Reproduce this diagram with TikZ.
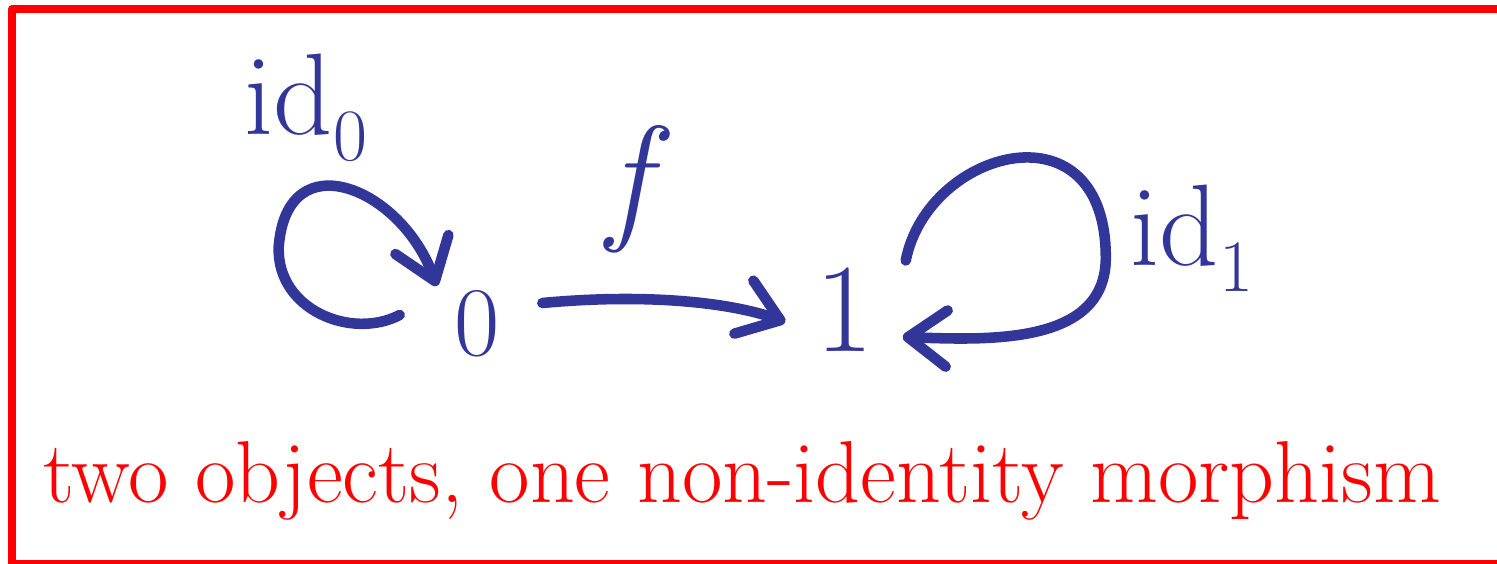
\documentclass[tikz,border=0pt]{standalone}
\usetikzlibrary{
	arrows.meta,
	calc
}
\definecolor{InkBlue}{RGB}{51,54,153}
\definecolor{InkRed}{RGB}{255,0,0}
\newcommand{\idsub}[1]{id\raisebox{-0.22em}{\fontsize{21}{24}\selectfont #1}}

\begin{document}
\begin{tikzpicture}[x=0.01cm, y=-0.01cm, line cap=round, line join=round,
		ink/.style={InkBlue, line width=3pt},
		arr/.style={ink, -{Straight Barb[round, length=11pt, width=16pt]}},
		obj/.style={InkBlue, inner sep=0pt, font=\fontsize{28}{34}\selectfont},
		lab/.style={InkBlue, inner sep=0pt, font=\fontsize{33}{38}\selectfont}]
		
		% -- Frame ----------------------------------------------------
		\useasboundingbox (0,0) rectangle (1497,563);
		\draw[InkRed, line width=2.3pt] (12,9) rectangle (1540,564);
		
		% -- Objects --------------------------------------------------
		\node[obj] (obj0) at (477,324) {0};
		\node[obj, font=\fontsize{36}{42}\selectfont] (obj1) at (845,310) {1};
		
		% -- Morphism f -----------------------------------------------
		\draw[arr] ($(obj0.east)+(42,-21)$)
		.. controls +(107,-10) and +(-53,-19) ..
		($(obj1.west)+(-30,12)$);
		\node[lab, font=\fontsize{40}{46}\selectfont\itshape] (lf) at (629,189) {f};
		
		% -- Identity on 0 --------------------------------------------
		\coordinate (l0a) at ($(obj0.west)+(-54,-9)$);
		\coordinate (l0m) at ($(obj0.west)+(-175,-77)$);
		\coordinate (l0b) at ($(obj0.north west)+(-17,-4)$);
		\draw[arr] (l0a)
		.. controls +(-48,25) and +(-2,63) .. (l0m)
		.. controls +(8,-107) and +(-35,-98) .. (l0b);
		\node[lab] (lid0) at (306,108) {\idsub{0}};
		
		% -- Identity on 1 --------------------------------------------
		\coordinate (l1a) at ($(obj1.north east)+(31,-7)$);
		\coordinate (l1m) at ($(obj1.east)+(231,-50)$);
		\coordinate (l1b) at ($(obj1.east)+(28,27)$);
		\draw[arr] (l1a)
		.. controls +(22,-112) and +(2,-160) .. (l1m)
		.. controls +(-2,85) and +(85,3) .. (l1b);
		\node[lab] (lid1) at (1192,238) {\idsub{1}};
		
		% -- Caption --------------------------------------------------
		\node[InkRed, font=\fontsize{25}{30}\selectfont, anchor=base] (caption)
		at (742,502) {two objects, one non-identity morphism};
		
	\end{tikzpicture}
\end{document}
